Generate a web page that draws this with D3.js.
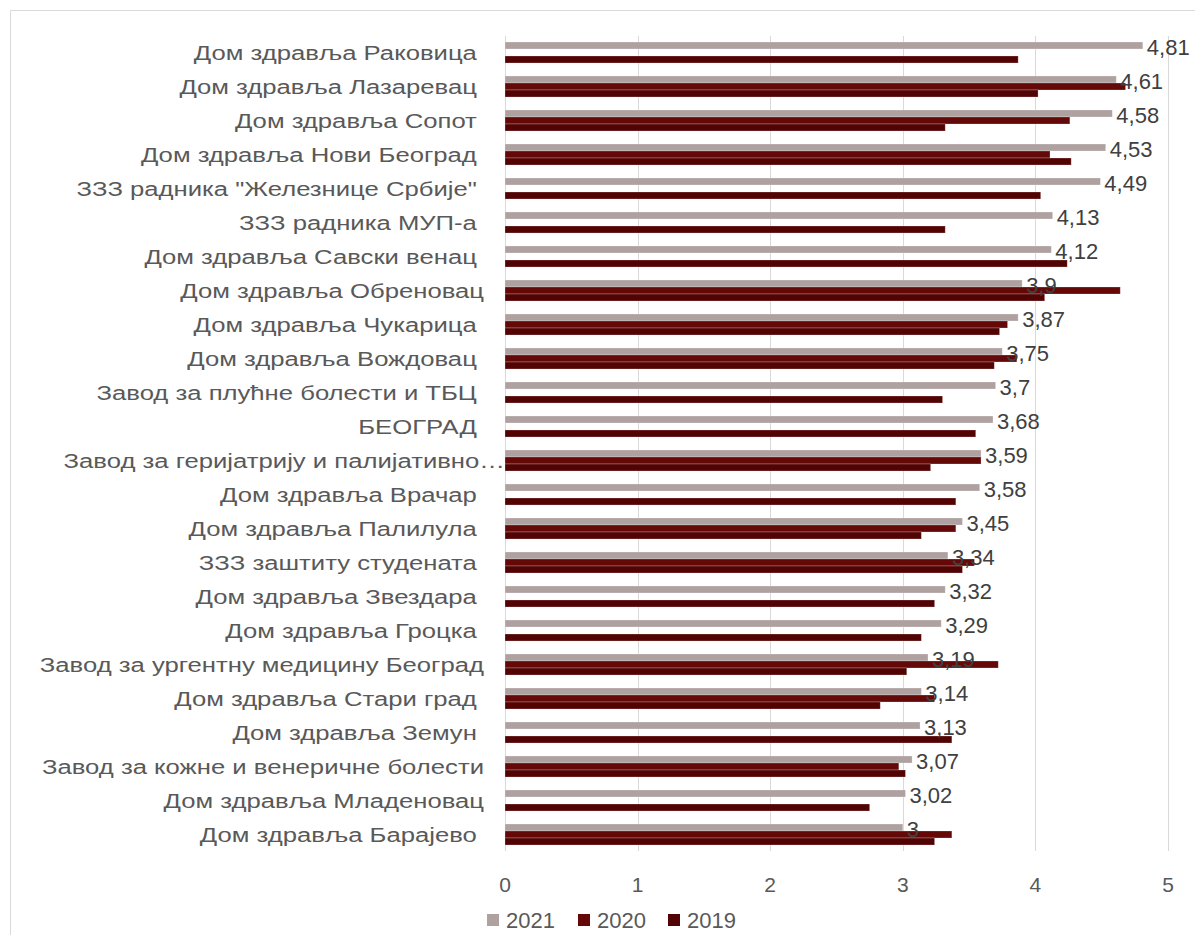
<!DOCTYPE html>
<html><head><meta charset="utf-8">
<script src="https://cdn.jsdelivr.net/npm/d3@7"></script>
<style>
html,body{margin:0;padding:0;background:#fff;}
svg{display:block;}
text{font-family:"Liberation Sans",Arial,sans-serif;}
</style></head>
<body>
<svg id="chart" width="1195" height="935"></svg>
<script>
const categories = [
  "Дом здравља Раковица ",
  "Дом здравља Лазаревац ",
  "Дом здравља Сопот ",
  "Дом здравља Нови Београд ",
  "ЗЗЗ радника \"Железнице Србије\" ",
  "ЗЗЗ радника МУП-а ",
  "Дом здравља Савски венац ",
  "Дом здравља Обреновац",
  "Дом здравља Чукарица ",
  "Дом здравља Вождовац ",
  "Завод за плућне болести и ТБЦ ",
  "БЕОГРАД ",
  "Завод за геријатрију и палијативно…",
  "Дом здравља Врачар ",
  "Дом здравља Палилула ",
  "ЗЗЗ заштиту студената ",
  "Дом здравља Звездара ",
  "Дом здравља Гроцка ",
  "Завод за ургентну медицину Београд",
  "Дом здравља Стари град ",
  "Дом здравља Земун ",
  "Завод за кожне и венеричне болести",
  "Дом здравља Младеновац",
  "Дом здравља Барајево "
];
const v2021 = [4.81,4.61,4.58,4.53,4.49,4.13,4.12,3.9,3.87,3.75,3.7,3.68,3.59,3.58,3.45,3.34,3.32,3.29,3.19,3.14,3.13,3.07,3.02,3];
const v2020 = [null,4.68,4.26,4.11,null,null,null,4.64,3.79,3.86,null,null,3.59,null,3.40,3.54,null,null,3.72,3.24,null,2.97,null,3.37];
const v2019 = [3.87,4.02,3.32,4.27,4.04,3.32,4.24,4.07,3.73,3.69,3.30,3.55,3.21,3.40,3.14,3.45,3.24,3.14,3.03,2.83,3.37,3.02,2.75,3.24];
const years = ["2021","2020","2019"];
const xTicks = [0,1,2,3,4,5];
const colors = {"2021":"#b0a1a1","2020":"#640808","2019":"#520303"};

const svg = d3.select("#chart");
const series = {"2021":v2021,"2020":v2020,"2019":v2019};

const x = d3.scaleLinear().domain([0,5]).range([505,1168]);
const y = d3.scaleBand().domain(categories).range([35.5,851.5]).paddingInner(0.382).paddingOuter(0.191);
const yy = d3.scaleBand().domain(years).range([0,y.bandwidth()]);

// frame
svg.append("line").attr("x1",10.5).attr("x2",1195).attr("y1",10.5).attr("y2",10.5).attr("stroke","#d9d9d9");
svg.append("line").attr("x1",10.5).attr("x2",10.5).attr("y1",10.5).attr("y2",935).attr("stroke","#d9d9d9");

// gridlines
svg.append("g").selectAll("line").data(xTicks).join("line")
  .attr("x1",d=>Math.round(x(d))+0.5).attr("x2",d=>Math.round(x(d))+0.5)
  .attr("y1",36).attr("y2",851)
  .attr("stroke","#d9d9d9").attr("stroke-width",1);

// x tick labels
svg.append("g").selectAll("text").data(xTicks).join("text")
  .attr("x",d=>x(d)).attr("y",884)
  .attr("text-anchor","middle").attr("dominant-baseline","central")
  .attr("font-size",21).attr("fill","#595959").text(d=>d);

// bars
const rows = categories.map((c,i)=>({c, vals: years.map(yr=>({yr, v: series[yr][i]}))}));
const g = svg.append("g");
rows.forEach(r=>{
  g.selectAll(null).data(r.vals.filter(d=>d.v!=null)).join("rect")
    .attr("x",x(0)).attr("y",d=>y(r.c)+yy(d.yr))
    .attr("width",d=>x(d.v)-x(0)).attr("height",yy.bandwidth())
    .attr("fill",d=>colors[d.yr])
    .attr("stroke","#ffffff").attr("stroke-opacity",0.3).attr("stroke-width",0.8);
});

// category labels
const labels = svg.append("g").selectAll("text").data(categories).join("text")
  .attr("x",d=>d.endsWith("…")?505:484)
  .attr("y",d=>y(d)+y.bandwidth()/2)
  .attr("text-anchor","end").attr("dominant-baseline","central")
  .attr("font-size",20).attr("fill","#595959")
  .style("white-space","pre")
  .text(d=>d);
// stretch horizontally to match the wide geometric face of the original
const tmp = svg.append("text").attr("font-size",20).text("Дом здравља Раковица");
const factor = 283 / tmp.node().getComputedTextLength();
tmp.remove();
labels.each(function(){
  const w = this.getComputedTextLength();
  d3.select(this).attr("textLength",w*factor).attr("lengthAdjust","spacingAndGlyphs");
});

// value labels for 2021
svg.append("g").selectAll("text").data(categories).join("text")
  .attr("x",(d,i)=>x(v2021[i])+4)
  .attr("y",d=>y(d)+yy("2021")+yy.bandwidth()/2+2)
  .attr("dominant-baseline","central")
  .attr("font-size",22).attr("fill","#404040")
  .text((d,i)=>String(v2021[i]).replace(".",","));

// legend
const leg = svg.append("g");
const legX = [487,578,668];
years.forEach((yr,i)=>{
  leg.append("rect").attr("x",legX[i]).attr("y",914).attr("width",12).attr("height",12).attr("fill",colors[yr]);
  leg.append("text").attr("x",legX[i]+19).attr("y",920).attr("dominant-baseline","central")
    .attr("font-size",22).attr("fill","#595959").text(yr);
});
</script>
</body></html>
